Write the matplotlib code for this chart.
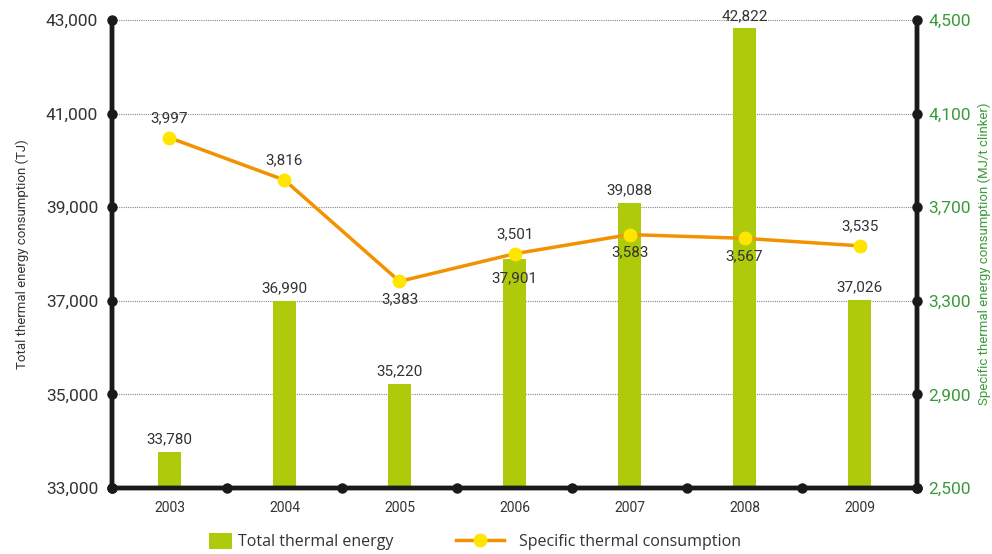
import matplotlib
matplotlib.use('Agg')
import matplotlib.pyplot as plt
import numpy as np

years = ["2003", "2004", "2005", "2006", "2007", "2008", "2009"]
total_energy = [33780, 36990, 35220, 37901, 39088, 42822, 37026]
specific_cons = [3997, 3816, 3383, 3501, 3583, 3567, 3535]
# label placement for the values: 1 above the mark, -1 below
line_label_side = [1, 1, -1, 1, -1, -1, 1]
bar_label_side = [1, 1, 1, -1, 1, 1, 1]

left_ticks = [33000, 35000, 37000, 39000, 41000, 43000]
right_ticks = [2500, 2900, 3300, 3700, 4100, 4500]

BAR_GREEN = "#afca0b"
ORANGE = "#f39200"
YELLOW = "#ffe500"
AXIS_GREEN = "#3a9a3a"
TXT = "#333333"

plt.rcParams['font.family'] = ['Roboto', 'DejaVu Sans']

fig = plt.figure(figsize=(9.92, 5.54), dpi=100)
ax = fig.add_axes([0.1129, 0.1191, 0.8115, 0.8448])
ax2 = ax.twinx()

x = np.arange(len(years))

bars = ax.bar(x, total_energy, width=0.2, color=BAR_GREEN, zorder=2)
ax.set_ylim(left_ticks[0], left_ticks[-1])
ax.set_xlim(-0.5, len(years) - 0.5)
ax.set_yticks(left_ticks)
ax.set_yticklabels([f"{v:,}" for v in left_ticks], fontsize=12.5, color=TXT)
ax.set_xticks(x)
ax.set_xticklabels(years, fontsize=10, color=TXT)
ax.tick_params(axis='y', length=0, pad=10)
ax.tick_params(axis='x', length=0, pad=9)
ax.grid(axis='y', linestyle=(0, (1, 1)), color="#888888", linewidth=0.8, zorder=0)
ax.set_ylabel("Total thermal energy consumption (TJ)", fontsize=9.5, color=TXT, labelpad=12)

for xi, v, side in zip(x, total_energy, bar_label_side):
    off = 9 if side > 0 else -14
    ax.annotate(f"{v:,}", (xi, v), xytext=(0, off), textcoords="offset points",
                ha="center", va="center", fontsize=11, color=TXT, zorder=5)

line, = ax2.plot(x, specific_cons, color=ORANGE, linewidth=2.5, marker="o", markersize=9,
                 markerfacecolor=YELLOW, markeredgecolor=YELLOW, zorder=4)
ax2.set_ylim(right_ticks[0], right_ticks[-1])
ax2.set_yticks(right_ticks)
ax2.set_yticklabels([f"{v:,}" for v in right_ticks], fontsize=12.5, color=AXIS_GREEN)
ax2.tick_params(axis='y', length=0, pad=8)
ax2.set_ylabel("Specific thermal energy consumption (MJ/t clinker)", fontsize=9.5,
               color=AXIS_GREEN, labelpad=5)

for xi, v, side in zip(x, specific_cons, line_label_side):
    off = 14 if side > 0 else -13
    ax2.annotate(f"{v:,}", (xi, v), xytext=(0, off), textcoords="offset points",
                 ha="center", va="center", fontsize=11, color=TXT, zorder=5)

for a in (ax, ax2):
    for s in a.spines.values():
        s.set_linewidth(3.2)
        s.set_color("#1a1a1a")
    a.spines['top'].set_visible(False)

# dot markers along the axes
ax.plot([0] * len(left_ticks), left_ticks, 'o', color="#1a1a1a", markersize=6.5,
        transform=ax.get_yaxis_transform(), clip_on=False, zorder=6)
ax2.plot([1] * len(right_ticks), right_ticks, 'o', color="#1a1a1a", markersize=6.5,
         transform=ax2.get_yaxis_transform(), clip_on=False, zorder=6)
bounds = np.arange(-0.5, len(years), 1.0)
ax.plot(bounds, [0] * len(bounds), 'o', color="#1a1a1a", markersize=6.5,
        transform=ax.get_xaxis_transform(), clip_on=False, zorder=6)

leg_font = {'family': ['Open Sans', 'DejaVu Sans'], 'size': 11.5}
leg1 = fig.legend([bars], ["Total thermal energy"], loc="center left",
                  bbox_to_anchor=(0.211, 0.022), frameon=False, prop=leg_font,
                  handlelength=1.4, handleheight=1.1, handletextpad=0.4,
                  borderpad=0, borderaxespad=0)
leg2 = fig.legend([line], ["Specific thermal consumption"], loc="center left",
                  bbox_to_anchor=(0.46, 0.022), frameon=False, prop=leg_font,
                  handlelength=3.0, handletextpad=0.9,
                  borderpad=0, borderaxespad=0)
for leg in (leg1, leg2):
    for t in leg.get_texts():
        t.set_color(TXT)

fig.savefig("out.png", dpi=100)
